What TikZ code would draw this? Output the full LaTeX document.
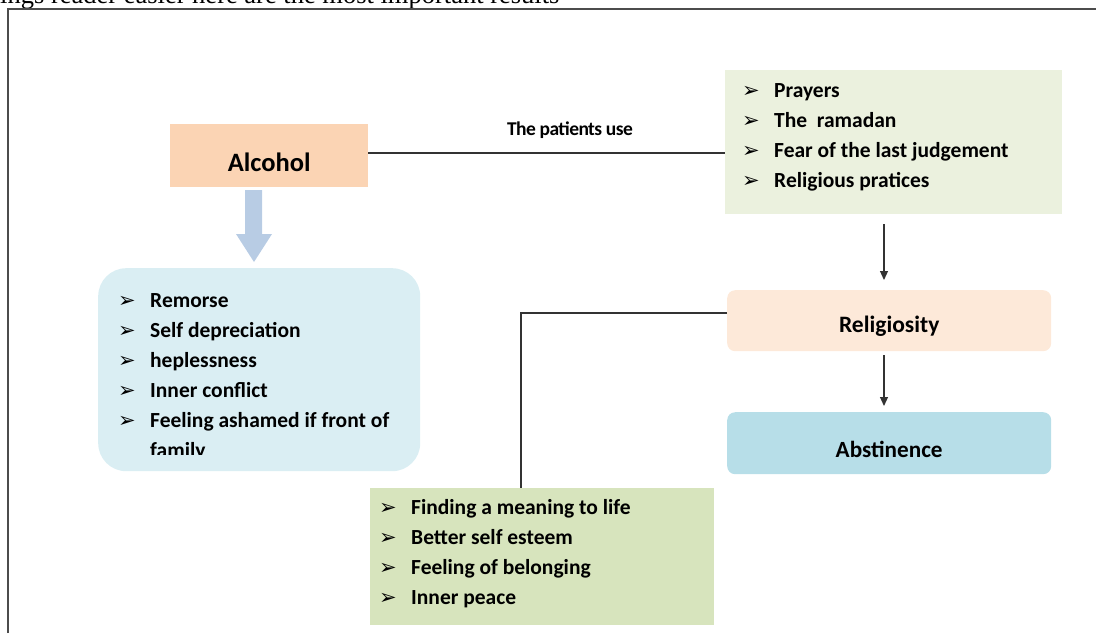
\documentclass[tikz,border=0pt]{standalone}
\usepackage{fontspec}
\setmainfont{Carlito}
\newfontfamily\symf{DejaVu Sans}
\newfontfamily\timesf{Liberation Serif}
\usetikzlibrary{arrows.meta,calc}
\definecolor{alcc}{HTML}{FBD4B4}
\definecolor{blockc}{HTML}{B8CCE4}
\definecolor{leftc}{HTML}{DAEEF3}
\definecolor{trc}{HTML}{EBF1DE}
\definecolor{relc}{HTML}{FDE9D9}
\definecolor{absc}{HTML}{B7DEE8}
\definecolor{botc}{HTML}{D7E4BD}
\definecolor{linec}{HTML}{333333}
\newcommand\blt[1]{\makebox[32pt][l]{\symf\fontsize{21}{21}\selectfont\raisebox{0pt}{➢}}#1}
\tikzset{
  panel/.style={anchor=north west, inner sep=0, draw=none},
  title/.style={anchor=base, inner sep=0, text=black},
  listitem/.style={anchor=base west, inner sep=0, font=\bfseries\fontsize{21.5}{24}\selectfont, text=black},
  conn/.style={draw=linec, line width=1.2pt},
  arr/.style={conn, -{Triangle[length=9pt,width=8pt]}}
}
\begin{document}
\begin{tikzpicture}[x=1pt,y=-1pt]
\useasboundingbox (0,0) rectangle (1096,633);
\begin{scope}
  \clip (0,0) rectangle (1096,633);
  \node[anchor=base west, inner sep=0, font=\timesf\fontsize{26.5}{28}\selectfont] (cap) at (0,3) {ings reader easier here are the most important results};
\end{scope}
\draw[draw=gray!60!black, line width=1.5pt] (8,633) -- (8,9) -- (1096,9);

% boxes
\node[panel, fill=alcc, minimum width=198, minimum height=63] (alc) at (170,124) {};
\node[title, font=\bfseries\fontsize{26.5}{28}\selectfont] (alct) at ($(alc.south)+(0,-16)$) {Alcohol};
\node[panel, fill=leftc, minimum width=322, minimum height=203, rounded corners=28pt] (left) at (98,268) {};
\node[panel, fill=trc, minimum width=337, minimum height=144] (tr) at (725,70) {};
\node[panel, fill=relc, minimum width=324, minimum height=61, rounded corners=8pt] (rel) at (727,290) {};
\node[title, font=\bfseries\fontsize{23.5}{26}\selectfont] (relt) at ($(rel.south)+(0,-19)$) {Religiosity};
\node[panel, fill=absc, minimum width=324, minimum height=62, rounded corners=8pt] (abs) at (727,412) {};
\node[title, font=\bfseries\fontsize{23.2}{26}\selectfont] (abst) at ($(abs.south)+(0,-17)$) {Abstinence};
\node[panel, fill=botc, minimum width=344, minimum height=137] (bot) at (370,488) {};

% block arrow
\fill[blockc] (245,190) -- (262,190) -- (262,234) -- (272,234) -- (254,262) -- (236,234) -- (245,234) -- cycle;

% lists
\begin{scope}
  \clip (98,268) rectangle (420,454);
  \foreach \t [count=\i] in {Remorse, Self depreciation, heplessness, Inner conflict, Feeling ashamed if front of}
    \node[listitem] (l\i) at (118,{307+30*(\i-1)}) {\blt{\t}};
  \node[listitem] (l6) at (150,457) {family};
\end{scope}
\foreach \t [count=\i] in {Prayers, The\ \ ramadan, Fear of the last judgement, Religious pratices}
  \node[listitem] (r\i) at (742,{97+30*(\i-1)}) {\blt{\t}};
\foreach \t [count=\i] in {Finding a meaning to life, Better self esteem, Feeling of belonging, Inner peace}
  \node[listitem, xshift=-1pt] (b\i) at (380,{514+30*(\i-1)}) {\blt{\t}};

% connectors
\draw[conn] (alc.east |- 0,153) -- (tr.west |- 0,153);
\node[anchor=base, inner sep=0, font=\bfseries\fontsize{19.5}{20}\selectfont, text=black] (lab) at (570,135) {\addfontfeature{LetterSpace=-3}The patients use};
\coordinate (a1s) at (884,224);
\coordinate (a1e) at (884,280);
\draw[arr] (a1s) -- (a1e);
\coordinate (a2s) at (884,355);
\coordinate (a2e) at (884,406);
\draw[arr] (a2s) -- (a2e);
\coordinate (bend) at (521,313);
\draw[conn] (rel.west |- bend) -- (bend) -- (bend |- bot.north);
\end{tikzpicture}
\end{document}
